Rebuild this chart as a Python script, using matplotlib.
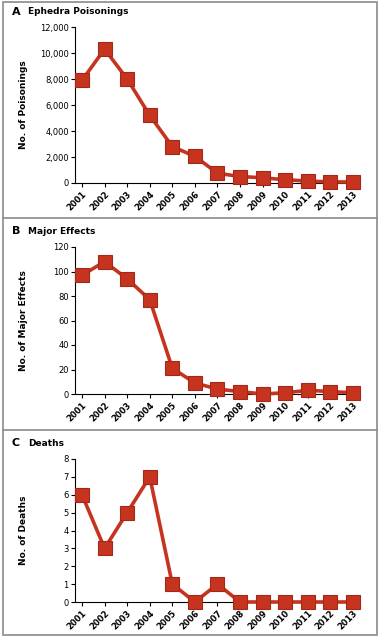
import matplotlib.pyplot as plt
import numpy as np
from matplotlib.patches import Rectangle
from matplotlib.lines import Line2D

years = np.arange(2001, 2014)
poisonings = [7900, 10300, 8000, 5200, 2800, 2050, 750, 500, 400, 250, 150, 80, 80]
major_effects = [97, 108, 94, 77, 21, 9, 4, 2, 0, 1, 3, 2, 1]
deaths = [6, 3, 5, 7, 1, 0, 1, 0, 0, 0, 0, 0, 0]

panel_letters = ["A", "B", "C"]
panel_titles = ["Ephedra Poisonings", "Major Effects", "Deaths"]
y_labels = ["No. of Poisonings", "No. of Major Effects", "No. of Deaths"]
y_ticks = [np.arange(0, 12001, 2000), np.arange(0, 121, 20), np.arange(0, 9, 1)]
series = [poisonings, major_effects, deaths]

plt.rcParams['font.family'] = ['Liberation Sans Narrow', 'DejaVu Sans']

W, H = 380, 639
fig = plt.figure(figsize=(W / 100, H / 100), dpi=100)

# axes boxes in pixels: (top, bottom)
boxes = [(27, 183), (247, 394), (459, 602)]
title_y = [12, 231, 443]
ylabel_x = 28

line_col = "#c6341f"
edge_col = "#a3281a"

for i in range(3):
    top, bot = boxes[i]
    ax = fig.add_axes([75 / W, 1 - bot / H, 285 / W, (bot - top) / H])
    ax.plot(years, series[i], color=line_col, lw=2.6, marker="s", ms=9.5,
            mfc=line_col, mec=edge_col, mew=0.8, clip_on=False, zorder=3)
    ax.set_xlim(2000.69, 2013.31)
    yt = y_ticks[i]
    ax.set_ylim(yt[0], yt[-1])
    ax.set_yticks(yt)
    if i == 0:
        ax.set_yticklabels(["{:,}".format(v) for v in yt])
    ax.set_xticks(years)
    ax.set_xticklabels([str(y) for y in years], rotation=45, ha="right",
                       rotation_mode="anchor", fontsize=6, fontweight="bold")
    for lab in ax.get_yticklabels():
        lab.set_fontsize(6)
    for s in ["top", "right"]:
        ax.spines[s].set_visible(False)
    for s in ["left", "bottom"]:
        ax.spines[s].set_linewidth(0.8)
    ax.tick_params(axis="both", length=3, width=0.8, pad=1.5)
    ax.set_ylabel(y_labels[i], fontsize=6.5, fontweight="bold")
    ax.yaxis.set_label_coords((ylabel_x - 75) / 285, 0.5)
    fig.text(12 / W, 1 - title_y[i] / H, panel_letters[i], fontsize=8,
             fontweight="bold", va="center", ha="left")
    fig.text(28 / W, 1 - title_y[i] / H, panel_titles[i], fontsize=6.5,
             fontweight="bold", va="center", ha="left")

# outer frame and dividers
fig.patches.append(Rectangle((3 / W, 1 - 635 / H), 374 / W, 633 / H,
                             transform=fig.transFigure, fill=False,
                             ec="#8a8a8a", lw=1.2))
for yy in [218, 430]:
    fig.lines.append(Line2D([3 / W, 377 / W], [1 - yy / H, 1 - yy / H],
                            transform=fig.transFigure, color="#8a8a8a", lw=1.2))

fig.savefig("out.png", dpi=100)
